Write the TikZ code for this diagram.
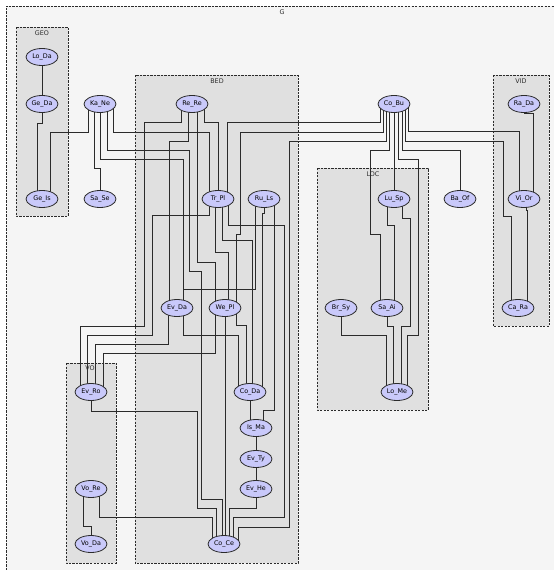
\documentclass[tikz,border=0pt]{standalone}
\usepackage{fontspec}
\setmainfont{DejaVu Sans}
\usetikzlibrary{shapes.geometric}
\definecolor{ink}{HTML}{2B2B2B}
\definecolor{lav}{HTML}{C9C9FA}
\definecolor{clgray}{HTML}{E0E0E0}
\definecolor{bggray}{HTML}{F5F5F5}
\pgfdeclarelayer{back}
\pgfdeclarelayer{wires}
\pgfsetlayers{back,wires,main}

\begin{document}
\begin{tikzpicture}[
  x=1pt, y=-1pt,
  font=\fontsize{6.4}{7}\selectfont,
  nd/.style={ellipse, draw=ink, line width=0.8pt, fill=lav,
             minimum width=32pt, minimum height=17pt, inner sep=0pt},
  clu/.style={draw=ink, fill=clgray, line width=0.6pt, dash pattern=on 2.2pt off 1.3pt},
  lbl/.style={inner sep=0pt, text=ink},
  wire/.style={draw=ink, line width=0.9pt},
]
\useasboundingbox (0,0) rectangle (554,570);

% clusters
\begin{pgfonlayer}{back}
\fill[white] (0,0) rectangle (554,570);
\fill[bggray] (6,6) rectangle (554,570);
\draw[draw=ink, line width=0.6pt, dash pattern=on 2.2pt off 1.3pt] (6,570) -- (6,6) -- (554,6);
\draw[clu] (16,27) rectangle (68,216);
\draw[clu] (135,75) rectangle (298,563);
\draw[clu] (66,363) rectangle (116,563);
\draw[clu] (317,168) rectangle (428,410);
\draw[clu] (493,75) rectangle (549,326);
\end{pgfonlayer}
\node[lbl] (gG) at (282,12) {G};
\node[lbl] (gGEO) at (42,33) {GEO};
\node[lbl] (gBED) at (217,81) {BED};
\node[lbl] (gVOI) at (91,368) {VOI};
\node[lbl] (gLOC) at (373,174) {LOC};
\node[lbl] (gVID) at (521,81) {VID};

% nodes
\node[nd] (Lo_Da) at (42,57) {Lo\_Da};
\node[nd] (Ge_Da) at (42,104) {Ge\_Da};
\node[nd] (Ge_Is) at (42,199) {Ge\_Is};
\node[nd] (Ka_Ne) at (100,104) {Ka\_Ne};
\node[nd] (Sa_Se) at (100,199) {Sa\_Se};
\node[nd] (Re_Re) at (192,104) {Re\_Re};
\node[nd] (Tr_Pl) at (218,199) {Tr\_Pl};
\node[nd] (Ru_Ls) at (264,199) {Ru\_Ls};
\node[nd] (Ev_Da) at (177,308) {Ev\_Da};
\node[nd] (We_Pl) at (225,308) {We\_Pl};
\node[nd] (Co_Da) at (250,392) {Co\_Da};
\node[nd] (Is_Ma) at (256,428) {Is\_Ma};
\node[nd] (Ev_Ty) at (256,459) {Ev\_Ty};
\node[nd] (Ev_He) at (256,489) {Ev\_He};
\node[nd] (Co_Ce) at (224,544) {Co\_Ce};
\node[nd] (Ev_Ro) at (91,392) {Ev\_Ro};
\node[nd] (Vo_Re) at (91,489) {Vo\_Re};
\node[nd] (Vo_Da) at (91,544) {Vo\_Da};
\node[nd] (Co_Bu) at (394,104) {Co\_Bu};
\node[nd] (Lu_Sp) at (394,199) {Lu\_Sp};
\node[nd] (Ba_Of) at (460,199) {Ba\_Of};
\node[nd] (Br_Sy) at (341,308) {Br\_Sy};
\node[nd] (Sa_Ai) at (387,308) {Sa\_Ai};
\node[nd] (Lo_Me) at (397,392) {Lo\_Me};
\node[nd] (Ra_Da) at (524,104) {Ra\_Da};
\node[nd] (Vi_Or) at (524,199) {Vi\_Or};
\node[nd] (Ca_Ra) at (518,308) {Ca\_Ra};

% edges
\begin{pgfonlayer}{wires}
\draw[wire] (Lo_Da) -- (Ge_Da);
\draw[wire] (Ge_Da.center) |- (37,123) -| ([xshift=-5pt]Ge_Is.center);
\draw[wire] ([xshift=-12pt]Ka_Ne.center) |- (50,132) -| ([xshift=8pt]Ge_Is.center);
\draw[wire] ([xshift=-6pt]Ka_Ne.center) |- (100,168) -| (Sa_Se.center);
\draw[wire] (Ka_Ne.center) |- (183,159) -| ([xshift=6pt]Ev_Da.center);
\draw[wire] ([xshift=7pt]Ka_Ne.center) |- (189,150) |- (201,271) |- (222,499) -| ([xshift=-2pt]Co_Ce.center);
\draw[wire] ([xshift=13pt]Ka_Ne.center) |- (209,132) -| ([xshift=-9pt]Tr_Pl.center);
\draw[wire] ([xshift=-11pt]Re_Re.center) |- (144,122) |- (80,326) -| ([xshift=-11pt]Ev_Ro.center);
\draw[wire] ([xshift=-4pt]Re_Re.center) |- (169,141) -| ([xshift=-8pt]Ev_Da.center);
\draw[wire] ([xshift=5pt]Re_Re.center) |- (215,262) -| ([xshift=-10pt]We_Pl.center);
\draw[wire] ([xshift=12pt]Re_Re.center) |- (218,122) -| (Tr_Pl.center);
\draw[wire] ([xshift=-9pt]Tr_Pl.center) |- (152,215) |- (87,335) -| ([xshift=-4pt]Ev_Ro.center);
\draw[wire] ([xshift=-3pt]Tr_Pl.center) |- (228,252) -| ([xshift=3pt]We_Pl.center);
\draw[wire] ([xshift=4pt]Tr_Pl.center) |- (252,240) -| ([xshift=2pt]Co_Da.center);
\draw[wire] ([xshift=10pt]Tr_Pl.center) |- (284,225) |- (233,517) -| ([xshift=9pt]Co_Ce.center);
\draw[wire] ([xshift=-14pt]Co_Bu.center) |- (227,122) -| ([xshift=9pt]Tr_Pl.center);
\draw[wire] ([xshift=-11pt]Co_Bu.center) |- (240,132) |- (236,234) -| ([xshift=11pt]We_Pl.center);
\draw[wire] ([xshift=-8pt]Co_Bu.center) |- (289,141) |- (238,527) -| ([xshift=14pt]Co_Ce.center);
\draw[wire] ([xshift=-5pt]Co_Bu.center) |- (370,150) |- (380,234) -| ([xshift=-7pt]Sa_Ai.center);
\draw[wire] (Co_Bu) -- (Lu_Sp);
\draw[wire] ([xshift=4pt]Co_Bu.center) |- (418,159) |- (407,335) -| ([xshift=10pt]Lo_Me.center);
\draw[wire] ([xshift=8pt]Co_Bu.center) |- (460,150) -| (Ba_Of.center);
\draw[wire] ([xshift=11pt]Co_Bu.center) |- (503,141) |- (511,216) -| ([xshift=-7pt]Ca_Ra.center);
\draw[wire] ([xshift=14pt]Co_Bu.center) |- (519,131) -| ([xshift=-5pt]Vi_Or.center);
\draw[wire] (Ra_Da.center) |- (533,113) -| ([xshift=9pt]Vi_Or.center);
\draw[wire] ([xshift=2pt]Vi_Or.center) |- (527,210) -| ([xshift=9pt]Ca_Ra.center);
\draw[wire] ([xshift=-7pt]Lu_Sp.center) |- (394,225) -| ([xshift=7pt]Sa_Ai.center);
\draw[wire] ([xshift=8pt]Lu_Sp.center) |- (410,218) |- (401,326) -| ([xshift=4pt]Lo_Me.center);
\draw[wire] (Sa_Ai.center) |- (393,326) -| ([xshift=-4pt]Lo_Me.center);
\draw[wire] (Br_Sy.center) |- (386,335) -| ([xshift=-11pt]Lo_Me.center);
\draw[wire] ([xshift=-9pt]Ru_Ls.center) |- (183,289) -| ([xshift=6pt]Ev_Da.center);
\draw[wire] (Ru_Ls.center) |- (262,213) -| ([xshift=12pt]Co_Da.center);
\draw[wire] ([xshift=10pt]Ru_Ls.center) |- (263,410) -| ([xshift=7pt]Is_Ma.center);
\draw[wire] ([xshift=-9pt]Ev_Da.center) |- (95,344) -| ([xshift=4pt]Ev_Ro.center);
\draw[wire] ([xshift=6pt]Ev_Da.center) |- (238,335) -| ([xshift=-12pt]Co_Da.center);
\draw[wire] ([xshift=-10pt]We_Pl.center) |- (103,353) -| ([xshift=12pt]Ev_Ro.center);
\draw[wire] (We_Pl.center) -- ([xshift=1pt]Co_Ce.center);
\draw[wire] ([xshift=11pt]We_Pl.center) |- (246,325) -| ([xshift=-4pt]Co_Da.center);
\draw[wire] (Co_Da.center) -- ([xshift=-6pt]Is_Ma.center);
\draw[wire] (Is_Ma) -- (Ev_Ty);
\draw[wire] (Ev_Ty) -- (Ev_He);
\draw[wire] (Ev_He.center) |- (229,508) -| ([xshift=5pt]Co_Ce.center);
\draw[wire] (Ev_Ro.center) |- (197,411) |- (216,508) -| ([xshift=-8pt]Co_Ce.center);
\draw[wire] ([xshift=8pt]Vo_Re.center) |- (212,517) -| ([xshift=-12pt]Co_Ce.center);
\draw[wire] ([xshift=-8pt]Vo_Re.center) |- (91,526) -| (Vo_Da.center);
\end{pgfonlayer}
\end{tikzpicture}
\end{document}
